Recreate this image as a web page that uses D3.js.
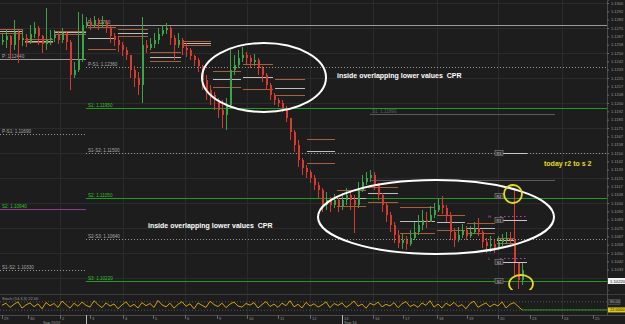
<!DOCTYPE html>
<html>
<head>
<meta charset="utf-8">
<script src="https://cdn.jsdelivr.net/npm/d3@7/dist/d3.min.js"></script>
<style>
  html, body { margin: 0; padding: 0; background: #1d1d1d; }
  svg { display: block; font-family: "Liberation Sans", Arial, sans-serif; }
</style>
</head>
<body>
<div id="chart"></div>
<script>
// price bars (open of each bar = previous close)
const firstOpen = 1.1261;
const closes = [
  1.1263, 1.1267, 1.1258, 1.1271, 1.1263, 1.1265, 1.1261, 1.1269, 1.1275, 1.1267,
  1.1259, 1.1263, 1.1265, 1.1268, 1.1263, 1.1270, 1.1261, 1.1228, 1.1233, 1.1243,
  1.1278, 1.1281, 1.1277, 1.1283, 1.1279, 1.1281, 1.1275, 1.1267, 1.1263, 1.1258,
  1.1253, 1.1248, 1.1233, 1.1225, 1.1218, 1.1258, 1.1255, 1.1259, 1.1263, 1.1269,
  1.1273, 1.1275, 1.1265, 1.1258, 1.1263, 1.1255, 1.1253, 1.1247, 1.1243, 1.1237,
  1.1223, 1.1213, 1.1208, 1.1203, 1.1193, 1.1188, 1.1198, 1.1233, 1.1238, 1.1245,
  1.1248, 1.1245, 1.1241, 1.1243, 1.1235, 1.1228, 1.1218, 1.1208, 1.1203, 1.1200,
  1.1195, 1.1185, 1.1171, 1.1158, 1.1143, 1.1135, 1.1131, 1.1125, 1.1118, 1.1113,
  1.1098, 1.1103, 1.1098, 1.1103, 1.1097, 1.1103, 1.1108, 1.1103, 1.1098, 1.1113,
  1.1121, 1.1125, 1.1128, 1.1118, 1.1108, 1.1098, 1.1088, 1.1078, 1.1068, 1.1060,
  1.1063, 1.1059, 1.1065, 1.1071, 1.1078, 1.1083, 1.1081, 1.1088, 1.1093, 1.1098,
  1.1095, 1.1088, 1.1071, 1.1063, 1.1068, 1.1073, 1.1067, 1.1071, 1.1075, 1.1071,
  1.1061, 1.1057, 1.1059, 1.1055, 1.1061, 1.1063, 1.1065, 1.1063, 1.1041, 1.1023,
  1.1033
];
const highs = [
  1.1270, 1.1273, 1.1268, 1.1283, 1.1273, 1.1273, 1.1269, 1.1278, 1.1281, 1.1277,
  1.1268, 1.1295, 1.1273, 1.1273, 1.1271, 1.1275, 1.1271, 1.1263, 1.1241, 1.1291,
  1.1289, 1.1286, 1.1285, 1.1287, 1.1285, 1.1287, 1.1283, 1.1277, 1.1270, 1.1266,
  1.1261, 1.1256, 1.1248, 1.1237, 1.1231, 1.1286, 1.1263, 1.1265, 1.1270, 1.1275,
  1.1278, 1.1280, 1.1277, 1.1268, 1.1270, 1.1265, 1.1260, 1.1255, 1.1248, 1.1245,
  1.1238, 1.1228, 1.1218, 1.1211, 1.1205, 1.1203, 1.1205, 1.1253, 1.1248, 1.1253,
  1.1256, 1.1251, 1.1248, 1.1249, 1.1245, 1.1237, 1.1230, 1.1220, 1.1210, 1.1205,
  1.1203, 1.1197, 1.1185, 1.1173, 1.1163, 1.1145, 1.1138, 1.1133, 1.1128, 1.1121,
  1.1115, 1.1111, 1.1106, 1.1109, 1.1105, 1.1110, 1.1115, 1.1113, 1.1108, 1.1121,
  1.1128, 1.1131, 1.1133, 1.1131, 1.1120, 1.1110, 1.1101, 1.1091, 1.1081, 1.1073,
  1.1069, 1.1067, 1.1073, 1.1081, 1.1088, 1.1093, 1.1091, 1.1097, 1.1100, 1.1105,
  1.1107, 1.1098, 1.1091, 1.1075, 1.1076, 1.1079, 1.1077, 1.1077, 1.1081, 1.1085,
  1.1073, 1.1065, 1.1067, 1.1063, 1.1067, 1.1069, 1.1071, 1.1071, 1.1113, 1.1041,
  1.1041
];
const lows = [
  1.1258, 1.1255, 1.1243, 1.1253, 1.1240, 1.1257, 1.1256, 1.1259, 1.1265, 1.1258,
  1.1250, 1.1253, 1.1258, 1.1261, 1.1259, 1.1260, 1.1253, 1.1213, 1.1225, 1.1231,
  1.1241, 1.1275, 1.1273, 1.1275, 1.1273, 1.1275, 1.1270, 1.1260, 1.1257, 1.1251,
  1.1247, 1.1243, 1.1225, 1.1216, 1.1208, 1.1200, 1.1250, 1.1253, 1.1255, 1.1259,
  1.1267, 1.1269, 1.1258, 1.1243, 1.1255, 1.1248, 1.1246, 1.1243, 1.1237, 1.1231,
  1.1213, 1.1203, 1.1198, 1.1193, 1.1185, 1.1175, 1.1173, 1.1195, 1.1228, 1.1235,
  1.1241, 1.1239, 1.1235, 1.1237, 1.1228, 1.1221, 1.1213, 1.1203, 1.1198, 1.1196,
  1.1191, 1.1181, 1.1163, 1.1151, 1.1136, 1.1128, 1.1125, 1.1120, 1.1113, 1.1105,
  1.1091, 1.1093, 1.1091, 1.1095, 1.1091, 1.1093, 1.1098, 1.1093, 1.1070, 1.1095,
  1.1111, 1.1118, 1.1121, 1.1113, 1.1103, 1.1091, 1.1081, 1.1071, 1.1060, 1.1055,
  1.1054, 1.1053, 1.1057, 1.1063, 1.1068, 1.1073, 1.1075, 1.1081, 1.1085, 1.1091,
  1.1089, 1.1081, 1.1063, 1.1056, 1.1061, 1.1065, 1.1063, 1.1065, 1.1069, 1.1067,
  1.1055, 1.1050, 1.1051, 1.1050, 1.1053, 1.1057, 1.1059, 1.1057, 1.1026, 1.1014,
  1.1018
];

// lower panel oscillator, one value per bar
const osc = [
  55, 70, 40, 62, 80, 35, 58, 72, 45, 66, 30, 75, 52, 68, 40, 85, 60, 35, 70, 48,
  78, 55, 42, 88, 60, 38, 72, 50, 65, 30, 58, 80, 45, 62, 36, 74, 52, 68, 40, 90,
  58, 44, 70, 35, 62, 80, 48, 66, 30, 72, 55, 40, 84, 60, 46, 70, 38, 64, 78, 50,
  42, 68, 56, 74, 36, 60, 82, 46, 64, 40, 70, 52, 88, 44, 62, 36, 76, 50, 66, 42,
  58, 80, 38, 68, 54, 72, 40, 60, 86, 48, 64, 34, 70, 56, 78, 44, 62, 50, 74, 38,
  66, 82, 46, 60, 40, 72, 54, 88, 42, 64, 36, 70, 52, 76, 46, 60, 30, 68, 84, 40,
  58, 72, 44, 64, 50, 80, 36, 62, 74, 48, 22
];

// time axis (bar positions of the day ticks)
const dayTicks = [0, 6.5, 14.5, 22, 30.25, 37.75, 45.75, 53.75, 61.25, 69, 77, 85, 92.75, 100.25, 108.75, 116.25, 124, 132, 140, 147.75];
const dayLabels = ["29", "30", "2", "3", "4", "5", "6", "9", "10", "11", "12", "13", "16", "17", "18", "19", "20", "23", "24", "25"];
const monthTicks = [10.25, 85.5];
const monthLabels = ["Sep 2019", "Sep 16"];
const weekStart = 21;

// weekly pivots: previous week and current week
const prevLevelNames = ["P", "P-S1", "S2", "S1-S2"];
const prevLevelValues = [1.12440, 1.11690, 1.10940, 1.10330];
const curLevelNames = ["P", "P-S1", "S1", "S1-S2", "S2", "S2-S3", "S3"];
const curLevelValues = [1.12780, 1.12360, 1.11950, 1.11500, 1.11050, 1.10640, 1.10220];

// daily CPR (top, pivot, bottom) per day
const cprStart = [-0.5, 5.75, 13.25, 21.5, 29, 37, 45.25, 52.75, 60.25, 68.25, 76.25, 83.75, 91.5, 99.5, 108.75, 116.25, 123.75];
const cprEnd = [5.25, 12.75, 21, 28.5, 36.5, 44.75, 52.25, 59.75, 67.75, 75.75, 83.25, 91, 99, 108.25, 115.75, 123.25, 128.25];
const cprTop = [1.1274, 1.1264, 1.1272, 1.1276, 1.1274, 1.1251, 1.1262, 1.1232, 1.1239, 1.1224, 1.1164, 1.1113, 1.1116, 1.1096, 1.1088, 1.1080, 1.1065];
const cprPivot = [1.1272, 1.12625, 1.1271, 1.1265, 1.1270, 1.1246, 1.1260, 1.1224, 1.1226, 1.1215, 1.1152, 1.1105, 1.1110, 1.1082, 1.1081, 1.1075, 1.1063];
const cprBottom = [1.1270, 1.1261, 1.1269, 1.1254, 1.1267, 1.1242, 1.1258, 1.1216, 1.1214, 1.1208, 1.1140, 1.1097, 1.1101, 1.1070, 1.1073, 1.1070, 1.1060];

// today's floor pivots (small tags on the right)
const todayNames = ["R3", "R2", "R1", "S1", "S2"];
const todayValues = [1.1150, 1.1107, 1.1083, 1.1041, 1.1022];
const todayHasLine = [true, false, true, true, false];
const todayMarkNames = ["H", "L"];
const todayMarkValues = [1.1087, 1.1045];
const extraLevelValues = [1.1189, 1.1123];

const W = 625, H = 324;
const plotRight = 607, mainBottom = 290, oscTop = 298, oscBottom = 314, axisY = 315;

const svg = d3.select("#chart").append("svg")
  .attr("width", W)
  .attr("height", H);

svg.append("rect").attr("width", W).attr("height", H).attr("fill", "#1d1d1d");

const x = d3.scaleLinear().domain([-0.5, 151.25]).range([0, plotRight]);
const y = d3.scaleLinear().domain([1.1013, 1.1303]).range([mainBottom, 0]);
const yo = d3.scaleLinear().domain([0, 100]).range([oscBottom - 1, oscTop + 1]);

svg.append("clipPath").attr("id", "mainClip")
  .append("rect").attr("x", 0).attr("y", 0).attr("width", plotRight).attr("height", mainBottom);

/* grid */
const grid = svg.append("g").attr("shape-rendering", "crispEdges");
grid.selectAll(".hg")
  .data(d3.range(1.1300, 1.1012, -0.0025)).enter()
  .append("line")
  .attr("x1", 0).attr("x2", plotRight)
  .attr("y1", d => Math.round(y(d)) + 0.5).attr("y2", d => Math.round(y(d)) + 0.5)
  .attr("stroke", "#2b2b2b");
grid.selectAll(".vg")
  .data(dayTicks.filter((d, i) => i % 2 === 0 && i > 0)).enter()
  .append("line")
  .attr("x1", d => Math.round(x(d)) + 0.5).attr("x2", d => Math.round(x(d)) + 0.5)
  .attr("y1", 0).attr("y2", axisY)
  .attr("stroke", "#2b2b2b");

const main = svg.append("g").attr("clip-path", "url(#mainClip)");

/* weekly pivot lines */
function levelColor(name, prev) {
  if (prev && name === "S2") return "#8e3a92";
  if (/^S\d$/.test(name)) return "#1f9b22";
  return "#9a9a9a";
}
function drawLevels(names, values, x0, x1, prev) {
  const g = main.append("g").attr("shape-rendering", "crispEdges");
  g.selectAll("line")
    .data(values).enter()
    .append("line")
    .attr("x1", x(x0)).attr("x2", x(x1))
    .attr("y1", d => Math.round(y(d)) + 0.5).attr("y2", d => Math.round(y(d)) + 0.5)
    .attr("stroke", (d, i) => levelColor(names[i], prev))
    .attr("stroke-width", (d, i) => names[i].includes("-") ? 1 : 1.2)
    .attr("stroke-dasharray", (d, i) => names[i].includes("-") ? "1,2" : null);
  g.selectAll("text")
    .data(values).enter()
    .append("text")
    .attr("x", x(x0) + 2)
    .attr("y", d => y(d) - 1)
    .attr("font-size", 4.6)
    .attr("fill", (d, i) => /^S\d$/.test(names[i]) ? "#2fc02f" : "#a8a8a8")
    .text((d, i) => `${names[i]}: ${d.toFixed(5)}`);
}
drawLevels(prevLevelNames, prevLevelValues, -0.5, weekStart, true);
drawLevels(curLevelNames, curLevelValues, weekStart, 151.25, false);

/* older levels still drawn on the right */
main.append("g").selectAll("line")
  .data(extraLevelValues).enter()
  .append("line")
  .attr("x1", x(92)).attr("x2", x(138.25))
  .attr("y1", d => Math.round(y(d)) + 0.5).attr("y2", d => Math.round(y(d)) + 0.5)
  .attr("stroke", "#5a5a5a");
main.append("text")
  .attr("x", x(92) + 2).attr("y", y(extraLevelValues[0]) - 1)
  .attr("font-size", 4.6).attr("fill", "#5f5f5f")
  .text(`S1: ${extraLevelValues[0].toFixed(5)}`);

/* daily CPR segments */
const cpr = main.append("g").attr("shape-rendering", "crispEdges");
const cprRows = [[cprTop, "#a8603a"], [cprPivot, "#bdbdbd"], [cprBottom, "#a8603a"]];
cprRows.forEach(([vals, col]) => {
  cpr.append("g").selectAll("line")
    .data(vals).enter()
    .append("line")
    .attr("x1", (d, i) => x(cprStart[i]))
    .attr("x2", (d, i) => x(cprEnd[i]))
    .attr("y1", d => Math.round(y(d)) + 0.5).attr("y2", d => Math.round(y(d)) + 0.5)
    .attr("stroke", col)
    .attr("stroke-width", 1);
});

/* candles */
const bars = closes.map((c, i) => ({
  i: i,
  open: i === 0 ? firstOpen : closes[i - 1],
  close: c,
  high: highs[i],
  low: lows[i]
}));
const upCol = "#3ba449", downCol = "#d93a2f";
const cg = main.append("g").attr("shape-rendering", "crispEdges");
cg.selectAll(".wick")
  .data(bars).enter()
  .append("rect")
  .attr("x", d => x(d.i))
  .attr("width", 1)
  .attr("y", d => y(d.high))
  .attr("height", d => y(d.low) - y(d.high))
  .attr("fill", d => d.close >= d.open ? upCol : downCol);
cg.selectAll(".body")
  .data(bars).enter()
  .append("rect")
  .attr("x", d => x(d.i) - 0.5)
  .attr("width", 2)
  .attr("y", d => y(Math.max(d.open, d.close)))
  .attr("height", d => Math.max(1, Math.abs(y(d.open) - y(d.close))))
  .attr("fill", d => d.close >= d.open ? upCol : downCol);

/* today's pivot tags */
const tg = main.append("g");
tg.selectAll("line")
  .data(todayValues.filter((d, i) => todayHasLine[i])).enter()
  .append("line")
  .attr("x1", x(123.75)).attr("x2", x(131.25))
  .attr("y1", d => Math.round(y(d)) + 0.5).attr("y2", d => Math.round(y(d)) + 0.5)
  .attr("stroke", "#c8c8c8").attr("stroke-width", 1);
tg.selectAll(".mk")
  .data(todayMarkValues).enter()
  .append("line")
  .attr("x1", x(124.5)).attr("x2", x(131.5))
  .attr("y1", d => Math.round(y(d)) + 0.5).attr("y2", d => Math.round(y(d)) + 0.5)
  .attr("stroke", "#c03cc8").attr("stroke-width", 1.2).attr("stroke-dasharray", "1.5,2.5");
tg.selectAll(".mkt")
  .data(todayMarkValues).enter()
  .append("text")
  .attr("x", x(121.5)).attr("y", d => y(d) + 1.5)
  .attr("font-size", 4.2).attr("fill", "#c03cc8")
  .text((d, i) => todayMarkNames[i]);
const tags = tg.selectAll(".tag")
  .data(todayValues).enter()
  .append("g")
  .attr("transform", d => `translate(${x(123.25)},${y(d)})`);
tags.append("rect")
  .attr("x", 0).attr("y", -2.5).attr("width", 8).attr("height", 5)
  .attr("fill", "#2a2a2a").attr("stroke", "#8a8a8a").attr("stroke-width", 0.6);
tags.append("text")
  .attr("x", 4).attr("y", 1.5).attr("text-anchor", "middle")
  .attr("font-size", 3.8).attr("fill", "#d0d0d0")
  .text((d, i) => todayNames[i]);

/* annotations */
const notes = main.append("g").attr("fill", "none");
notes.append("ellipse")
  .attr("cx", x(65.5)).attr("cy", y(1.12255))
  .attr("rx", x(81) - x(65.5)).attr("ry", y(1.1191) - y(1.12255))
  .attr("stroke", "#ffffff").attr("stroke-width", 2);
notes.append("ellipse")
  .attr("cx", x(108.5)).attr("cy", y(1.1086))
  .attr("rx", x(138) - x(108.5)).attr("ry", y(1.1049) - y(1.1086))
  .attr("stroke", "#ffffff").attr("stroke-width", 2);
notes.append("ellipse")
  .attr("cx", x(127.75)).attr("cy", y(1.1109))
  .attr("rx", x(130) - x(127.75)).attr("ry", y(1.1100) - y(1.1109))
  .attr("stroke", "#e6dc1e").attr("stroke-width", 1.8);
notes.append("ellipse")
  .attr("cx", x(129.75)).attr("cy", y(1.1019))
  .attr("rx", x(132.75) - x(129.75)).attr("ry", y(1.1010) - y(1.1019))
  .attr("stroke", "#e6dc1e").attr("stroke-width", 1.8);

svg.append("text")
  .attr("x", x(83.75)).attr("y", y(1.1225))
  .attr("font-size", 7).attr("font-weight", "bold").attr("fill", "#ffffff")
  .attr("xml:space", "preserve")
  .text("inside overlapping lower values  CPR");
svg.append("text")
  .attr("x", x(36.5)).attr("y", y(1.1075))
  .attr("font-size", 7).attr("font-weight", "bold").attr("fill", "#ffffff")
  .attr("xml:space", "preserve")
  .text("inside overlapping lower values  CPR");
svg.append("text")
  .attr("x", x(135.5)).attr("y", y(1.1137))
  .attr("font-size", 7).attr("font-weight", "bold").attr("fill", "#e6dc1e")
  .text("today r2 to s 2");

/* oscillator panel */
svg.append("line")
  .attr("x1", 0).attr("x2", W).attr("y1", oscTop - 3.5).attr("y2", oscTop - 3.5)
  .attr("stroke", "#3a3a3a");
svg.selectAll(".olev")
  .data([80, 20]).enter()
  .append("line")
  .attr("x1", 0).attr("x2", plotRight)
  .attr("y1", d => yo(d)).attr("y2", d => yo(d))
  .attr("stroke", "#555").attr("stroke-dasharray", "1,2");
const oscLine = d3.line()
  .x((d, i) => x(i))
  .y(d => yo(d));
svg.append("path")
  .attr("d", oscLine(osc))
  .attr("fill", "none")
  .attr("stroke", "#d2a10e")
  .attr("stroke-width", 1);
svg.append("line")
  .attr("x1", x(osc.length - 1)).attr("x2", plotRight)
  .attr("y1", yo(osc[osc.length - 1])).attr("y2", yo(osc[osc.length - 1]))
  .attr("stroke", "#2a9a2a");
svg.append("text")
  .attr("x", 2).attr("y", oscTop + 2)
  .attr("font-size", 4).attr("fill", "#9a9a9a")
  .text(`Stoch (14,3,3)  ${osc[osc.length - 1].toFixed(2)}`);

/* right price axis */
const lastLevel = curLevelValues[curLevelValues.length - 1];
const yTicks = d3.range(0, 35).map(k => 1.1300 - k * 0.0025 / 3)
  .filter(v => Math.abs(y(v) - y(lastLevel)) > 5.5);
const yAxis = d3.axisRight(y)
  .tickValues(yTicks)
  .tickFormat(d3.format(".4f"))
  .tickSize(2);
const ya = svg.append("g")
  .attr("transform", `translate(${plotRight},0)`)
  .call(yAxis);
ya.select(".domain").attr("stroke", "#4a4a4a");
ya.selectAll(".tick line").attr("stroke", "#6a6a6a");
ya.selectAll(".tick text").attr("fill", "#9a9a9a").attr("font-size", 4).attr("x", 4);
svg.append("line")
  .attr("x1", plotRight + 0.5).attr("x2", plotRight + 0.5).attr("y1", mainBottom).attr("y2", axisY)
  .attr("stroke", "#4a4a4a");

// highlighted axis tags
svg.append("rect")
  .attr("x", plotRight + 1).attr("y", y(lastLevel) - 3).attr("width", 17).attr("height", 6)
  .attr("fill", "#f2f2f2");
svg.append("text")
  .attr("x", plotRight + 3).attr("y", y(lastLevel) + 1.5)
  .attr("font-size", 4.2).attr("fill", "#111")
  .text(lastLevel.toFixed(5));
svg.append("rect")
  .attr("x", plotRight + 1).attr("y", yo(80) - 2.5).attr("width", 12).attr("height", 5)
  .attr("fill", "#2a2a2a").attr("stroke", "#666").attr("stroke-width", 0.5);
svg.append("text")
  .attr("x", plotRight + 3).attr("y", yo(80) + 1.5)
  .attr("font-size", 4).attr("fill", "#aaa").text("80.00");
svg.append("rect")
  .attr("x", plotRight + 1).attr("y", yo(osc[osc.length - 1]) - 2.5).attr("width", 17).attr("height", 5)
  .attr("fill", "#e1c81a");
svg.append("text")
  .attr("x", plotRight + 3).attr("y", yo(osc[osc.length - 1]) + 1.5)
  .attr("font-size", 4).attr("fill", "#111").text(osc[osc.length - 1].toFixed(4));

/* bottom time axis */
svg.append("line")
  .attr("x1", 0).attr("x2", W).attr("y1", axisY + 0.5).attr("y2", axisY + 0.5)
  .attr("stroke", "#4a4a4a");
const xa = svg.append("g").attr("shape-rendering", "crispEdges");
xa.selectAll("line")
  .data(dayTicks).enter()
  .append("line")
  .attr("x1", d => Math.round(x(d)) + 0.5).attr("x2", d => Math.round(x(d)) + 0.5)
  .attr("y1", axisY).attr("y2", axisY + 4)
  .attr("stroke", "#6a6a6a");
xa.selectAll("text")
  .data(dayTicks).enter()
  .append("text")
  .attr("x", d => x(d) + 2).attr("y", axisY + 4.5)
  .attr("font-size", 4).attr("fill", "#9a9a9a")
  .text((d, i) => dayLabels[i]);
xa.selectAll(".wk")
  .data([weekStart, 85]).enter()
  .append("line")
  .attr("x1", d => Math.round(x(d)) + 0.5).attr("x2", d => Math.round(x(d)) + 0.5)
  .attr("y1", axisY).attr("y2", H)
  .attr("stroke", "#bbb");
xa.selectAll(".mo")
  .data(monthTicks).enter()
  .append("text")
  .attr("x", d => x(d)).attr("y", H - 0.5)
  .attr("font-size", 4).attr("fill", "#9a9a9a")
  .text((d, i) => monthLabels[i]);
</script>
</body>
</html>
